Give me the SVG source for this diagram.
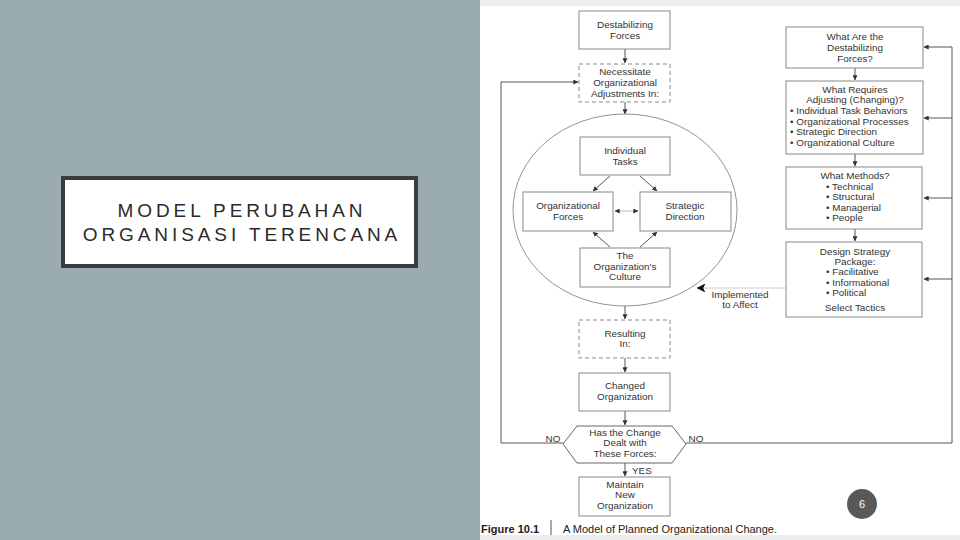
<svg xmlns="http://www.w3.org/2000/svg" width="960" height="540" viewBox="0 0 960 540">
<style>
.t{font-family:"Liberation Sans",Arial,sans-serif;font-size:9.9px;fill:#333;text-anchor:middle}
.tl{font-family:"Liberation Sans",Arial,sans-serif;font-size:9.9px;fill:#333}
.box{fill:#fff;stroke:#8a8a8a;stroke-width:1}
.dash{fill:#fff;stroke:#8a8a8a;stroke-width:1;stroke-dasharray:4 3}
.c{fill:none;stroke:#555;stroke-width:1}
.title{font-family:"Liberation Sans",Arial,sans-serif;font-size:19px;fill:#2a2a2a;text-anchor:middle;letter-spacing:3.9px}
</style>
<defs>
<marker id="ah" viewBox="0 0 8 8" refX="7.5" refY="4" markerWidth="5" markerHeight="5" orient="auto" markerUnits="userSpaceOnUse">
<path d="M0,0 L8,4 L0,8 z" fill="#333"/>
</marker>
<marker id="ahb" viewBox="0 0 8 8" refX="7.5" refY="4" markerWidth="9" markerHeight="9" orient="auto" markerUnits="userSpaceOnUse">
<path d="M0,0 L8,4 L0,8 L2,4 z" fill="#111"/>
</marker>
<marker id="ahs" viewBox="0 0 8 8" refX="0.5" refY="4" markerWidth="5" markerHeight="5" orient="auto" markerUnits="userSpaceOnUse">
<path d="M8,0 L0,4 L8,8 z" fill="#333"/>
</marker>
</defs>

<rect x="0" y="0" width="480" height="540" fill="#9aabb1"/>
<rect x="480" y="0" width="480" height="540" fill="#fff"/>
<rect x="480" y="0" width="480" height="6" fill="#ededed"/>
<rect x="480" y="535" width="480" height="5" fill="#ededed"/>

<g id="title">
<rect x="63" y="178" width="353" height="88" fill="#fff" stroke="#3a3d40" stroke-width="4"/>
<text class="title" x="242" y="217">MODEL PERUBAHAN</text>
<text class="title" x="242" y="241">ORGANISASI TERENCANA</text>
</g>

<g id="connectors">
<line class="c" x1="625" y1="49" x2="625" y2="63" marker-end="url(#ah)"/>
<line class="c" x1="625" y1="102" x2="625" y2="114" marker-end="url(#ah)"/>
<line class="c" x1="625" y1="306" x2="625" y2="319" marker-end="url(#ah)"/>
<line class="c" x1="625" y1="358" x2="625" y2="372" marker-end="url(#ah)"/>
<line class="c" x1="625" y1="411" x2="625" y2="425" marker-end="url(#ah)"/>
<line class="c" x1="625" y1="463" x2="625" y2="476" marker-end="url(#ah)"/>
<line class="c" x1="610" y1="176" x2="593" y2="191" marker-end="url(#ah)" stroke-width="0.8"/>
<line class="c" x1="640" y1="176" x2="657" y2="191" marker-end="url(#ah)" stroke-width="0.8"/>
<line class="c" x1="610" y1="247" x2="593" y2="232" marker-end="url(#ah)" stroke-width="0.8"/>
<line class="c" x1="640" y1="247" x2="657" y2="232" marker-end="url(#ah)" stroke-width="0.8"/>
<line x1="615" y1="211" x2="638" y2="211" stroke="#bbb" stroke-width="1" marker-start="url(#ahs)" marker-end="url(#ah)"/>
<polyline class="c" points="563,443 501,443 501,82 578,82" marker-end="url(#ah)"/>
<polyline class="c" points="686,443 952,443 952,47 924,47" marker-end="url(#ah)"/>
<line class="c" x1="952" y1="118" x2="924" y2="118" marker-end="url(#ah)"/>
<line class="c" x1="952" y1="198" x2="924" y2="198" marker-end="url(#ah)"/>
<line class="c" x1="952" y1="279" x2="924" y2="279" marker-end="url(#ah)"/>
<line class="c" x1="855" y1="68" x2="855" y2="80" marker-end="url(#ah)"/>
<line class="c" x1="855" y1="154" x2="855" y2="166" marker-end="url(#ah)"/>
<line class="c" x1="855" y1="229" x2="855" y2="241" marker-end="url(#ah)"/>
<line x1="786" y1="288" x2="697" y2="288" stroke="#ccc" stroke-width="1" marker-end="url(#ahb)"/>
<text class="t" x="553" y="442">NO</text>
<text class="t" x="696" y="442">NO</text>
<text class="tl" x="632" y="474">YES</text>
<text class="t" x="740" y="298">Implemented</text>
<text class="t" x="740" y="308">to Affect</text>
</g>

<g id="destabilizing-forces">
<rect class="box" x="579" y="11" width="91" height="38"/>
<text class="t" x="625" y="28">Destabilizing</text>
<text class="t" x="625" y="39">Forces</text>
</g>

<g id="necessitate">
<rect class="dash" x="579" y="64" width="91" height="38"/>
<text class="t" x="625" y="75">Necessitate</text>
<text class="t" x="625" y="86">Organizational</text>
<text class="t" x="625" y="97">Adjustments In:</text>
</g>

<g id="organization-ellipse">
<ellipse cx="625" cy="210" rx="112" ry="96" fill="none" stroke="#777" stroke-width="0.8"/>
</g>

<g id="individual-tasks">
<rect class="box" x="580" y="137" width="90" height="38"/>
<text class="t" x="625" y="154">Individual</text>
<text class="t" x="625" y="165">Tasks</text>
</g>

<g id="organizational-forces">
<rect class="box" x="523" y="192" width="90" height="39"/>
<text class="t" x="568" y="209">Organizational</text>
<text class="t" x="568" y="220">Forces</text>
</g>

<g id="strategic-direction">
<rect class="box" x="640" y="192" width="91" height="39"/>
<text class="t" x="685" y="209">Strategic</text>
<text class="t" x="685" y="220">Direction</text>
</g>

<g id="organization-culture">
<rect class="box" x="580" y="248" width="90" height="39"/>
<text class="t" x="625" y="259">The</text>
<text class="t" x="625" y="270">Organization's</text>
<text class="t" x="625" y="280">Culture</text>
</g>

<g id="resulting-in">
<rect class="dash" x="579" y="320" width="91" height="38"/>
<text class="t" x="625" y="337">Resulting</text>
<text class="t" x="625" y="347">In:</text>
</g>

<g id="changed-organization">
<rect class="box" x="579" y="373" width="91" height="38"/>
<text class="t" x="625" y="389">Changed</text>
<text class="t" x="625" y="400">Organization</text>
</g>

<g id="dealt-with-forces">
<polygon points="577,426 672,426 686,444 672,463 577,463 563,444" fill="#fff" stroke="#666" stroke-width="1"/>
<text class="t" x="625" y="436">Has the Change</text>
<text class="t" x="625" y="446">Dealt with</text>
<text class="t" x="625" y="457">These Forces:</text>
</g>

<g id="maintain-new-organization">
<rect class="box" x="579" y="477" width="91" height="39"/>
<text class="t" x="625" y="488">Maintain</text>
<text class="t" x="625" y="498">New</text>
<text class="t" x="625" y="509">Organization</text>
</g>

<g id="what-are-forces">
<rect class="box" x="786" y="27" width="137" height="41"/>
<text class="t" x="855" y="40">What Are the</text>
<text class="t" x="855" y="51">Destabilizing</text>
<text class="t" x="855" y="62">Forces?</text>
</g>

<g id="what-requires-adjusting">
<rect class="box" x="786" y="81" width="137" height="73"/>
<text class="t" x="855" y="93">What Requires</text>
<text class="t" x="855" y="103">Adjusting (Changing)?</text>
<text class="tl" x="790" y="114">• Individual Task Behaviors</text>
<text class="tl" x="790" y="125">• Organizational Processes</text>
<text class="tl" x="790" y="135">• Strategic Direction</text>
<text class="tl" x="790" y="146">• Organizational Culture</text>
</g>

<g id="what-methods">
<rect class="box" x="786" y="167" width="136" height="62"/>
<text class="t" x="855" y="179">What Methods?</text>
<text class="tl" x="826" y="190">• Technical</text>
<text class="tl" x="826" y="200">• Structural</text>
<text class="tl" x="826" y="211">• Managerial</text>
<text class="tl" x="826" y="221">• People</text>
</g>

<g id="design-strategy">
<rect class="box" x="786" y="242" width="136" height="75"/>
<text class="t" x="855" y="255">Design Strategy</text>
<text class="t" x="855" y="265">Package:</text>
<text class="tl" x="826" y="275">• Facilitative</text>
<text class="tl" x="826" y="286">• Informational</text>
<text class="tl" x="826" y="296">• Political</text>
<text class="t" x="855" y="311">Select Tactics</text>
</g>

<g id="caption">
<text x="481" y="533" font-family="'Liberation Sans',Arial,sans-serif" font-size="11" font-weight="bold" fill="#222">Figure 10.1</text>
<line x1="551" y1="520" x2="551" y2="535" stroke="#555" stroke-width="1"/>
<text x="563" y="533" font-family="'Liberation Sans',Arial,sans-serif" font-size="11" fill="#222">A Model of Planned Organizational Change.</text>
</g>

<g id="page-number">
<circle cx="862" cy="504" r="15" fill="#595959"/>
<text x="862" y="508" font-family="'Liberation Sans',Arial,sans-serif" font-size="11" fill="#fff" text-anchor="middle">6</text>
</g>
</svg>
